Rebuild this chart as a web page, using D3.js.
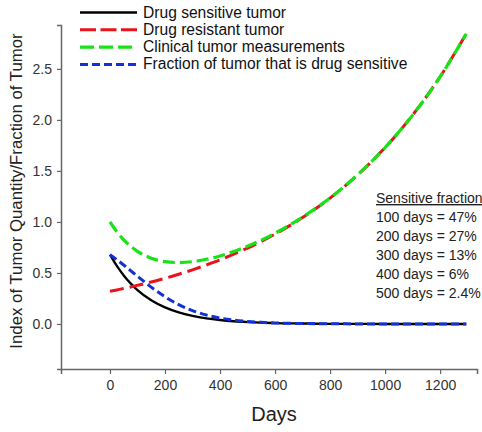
<!DOCTYPE html>
<html><head><meta charset="utf-8">
<script src="https://cdn.jsdelivr.net/npm/d3@7"></script>
<style>body{margin:0;background:#fff}svg{display:block;font-family:"Liberation Sans",Arial,sans-serif}</style>
</head><body>
<svg id="c" width="482" height="432"></svg>
<script>
// Data
const days       = [0,25,50,75,100,150,200,250,300,350,400,450,500,550,600,700,800,900,1000,1100,1200,1295];
const sensitive  = [0.68,0.569,0.476,0.398,0.333,0.233,0.163,0.114,0.080,0.056,0.039,0.027,0.019,0.013,0.009,0.005,0.002,0.001,0,0,0,0];
const resistant  = [0.32,0.334,0.348,0.363,0.379,0.412,0.448,0.488,0.531,0.578,0.628,0.684,0.744,0.809,0.881,1.043,1.234,1.461,1.729,2.047,2.423,2.844];
const clinical   = [1.0,0.903,0.824,0.761,0.712,0.645,0.611,0.602,0.611,0.634,0.667,0.711,0.763,0.822,0.890,1.048,1.236,1.462,1.729,2.047,2.423,2.844];
const fraction   = [0.68,0.630,0.578,0.523,0.468,0.361,0.267,0.189,0.131,0.088,0.058,0.038,0.025,0.016,0.010,0.005,0.002,0.001,0,0,0,0];
const xTicks = [0,200,400,600,800,1000,1200];
const yTicks = [0,0.5,1.0,1.5,2.0,2.5];
const legendLabels = ["Drug sensitive tumor","Drug resistant tumor","Clinical tumor measurements","Fraction of tumor that is drug sensitive"];
const noteTitle = "Sensitive fraction";
const noteLines = ["100 days = 47%","200 days = 27%","300 days = 13%","400 days = 6%","500 days = 2.4%"];

const svg = d3.select("#c");
const x = d3.scaleLinear().domain([-178,1334]).range([61,477]);
const y = d3.scaleLinear().domain([-0.441,2.93]).range([369,25]);

const axisCol = "#666", txtCol = "#333";
const gx = svg.append("g").attr("transform","translate(0,369)")
  .call(d3.axisBottom(x).tickValues(xTicks).tickSizeOuter(0).tickSize(5).tickPadding(6).tickFormat(d3.format("d")));
const gy = svg.append("g").attr("transform","translate(61,0)")
  .call(d3.axisLeft(y).tickValues(yTicks).tickSizeOuter(0).tickSize(4).tickPadding(5).tickFormat(d3.format(".1f")));
[gx,gy].forEach(g=>{
  g.select(".domain").attr("stroke",axisCol).attr("stroke-width",1.5);
  g.selectAll(".tick line").attr("stroke",axisCol).attr("stroke-width",1.2);
  g.selectAll(".tick text").attr("fill",txtCol).attr("font-size",14).attr("font-family","Liberation Sans, Arial, sans-serif");
});

const series = [
  {vals:sensitive, color:"#000", dash:null, w:2.3},
  {vals:resistant, color:"#e8141b", dash:"14,6", w:3},
  {vals:clinical,  color:"#17e317", dash:"12,5", w:3.2},
  {vals:fraction,  color:"#1431d6", dash:"8,4", w:3}
];
const line = d3.line().curve(d3.curveMonotoneX);
series.forEach(s=>{
  svg.append("path")
    .attr("d", line(days.map((d,i)=>[x(d), y(s.vals[i])])))
    .attr("fill","none").attr("stroke",s.color).attr("stroke-width",s.w)
    .attr("stroke-dasharray",s.dash);
});

// Legend
const lg = svg.append("g");
series.forEach((s,i)=>{
  const yy = 12.5 + i*17.3;
  lg.append("line").attr("x1",80).attr("x2",137).attr("y1",yy).attr("y2",yy)
    .attr("stroke",s.color).attr("stroke-width",s.w).attr("stroke-dasharray",
      i===1?"16,4.5":i===2?"14,5":i===3?"8,4":null);
  lg.append("text").attr("x",143).attr("y",yy+5).attr("font-size",15.6).attr("fill","#111").text(legendLabels[i]);
});

// Annotation
svg.append("text").attr("x",376).attr("y",203).attr("font-size",14).attr("fill","#222")
  .attr("text-decoration","underline").text(noteTitle);
noteLines.forEach((t,i)=>{
  svg.append("text").attr("x",376).attr("y",222+i*19.1).attr("font-size",14).attr("fill","#222").text(t);
});

// Axis titles
svg.append("text").attr("x",274).attr("y",421).attr("text-anchor","middle").attr("font-size",20).attr("fill","#222").text("Days");
svg.append("text").attr("transform","translate(22,191) rotate(-90)").attr("text-anchor","middle")
  .attr("font-size",16.8).attr("fill","#222").text("Index of Tumor Quantity/Fraction of Tumor");
</script>
</body></html>
